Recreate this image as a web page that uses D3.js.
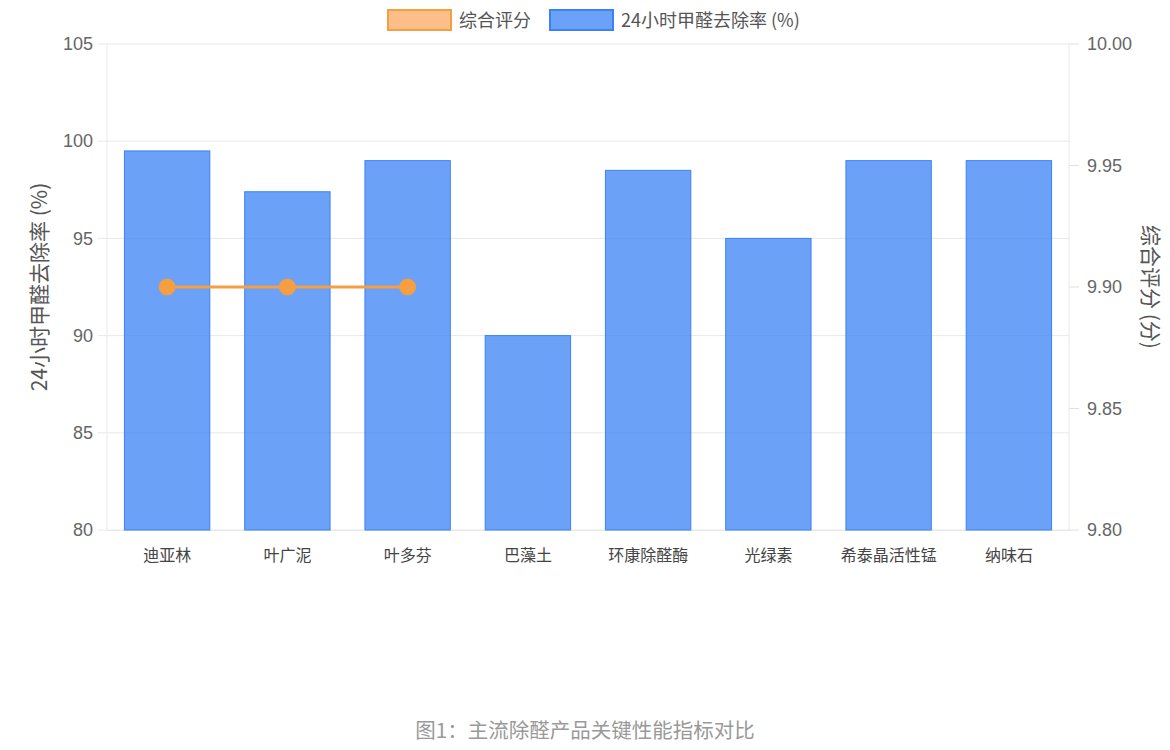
<!DOCTYPE html>
<html>
<head>
<meta charset="utf-8">
<script src="https://cdn.jsdelivr.net/npm/d3@7"></script>
<style>
  body { margin: 0; background: #fff; font-family: "Noto Sans CJK SC", "Noto Sans", sans-serif; }
  .chart { width: 1170px; height: 750px; }
</style>
</head>
<body>
<div class="chart"></div>
<script>
// data
const products = ["迪亚林", "叶广泥", "叶多芬", "巴藻土", "环康除醛酶", "光绿素", "希泰晶活性锰", "纳味石"];
const removal = [99.5, 97.4, 99.0, 90.0, 98.5, 95.0, 99.0, 99.0];
const score = [9.9, 9.9, 9.9, null, null, null, null, null];
const leftTicks = [80, 85, 90, 95, 100, 105];
const rightTicks = [9.80, 9.85, 9.90, 9.95, 10.00];

const margin = {top: 44, right: 101, bottom: 220, left: 107};
const width = 1170 - margin.left - margin.right,
    height = 750 - margin.top - margin.bottom;

const blue = "#3b82f6", blueFill = "rgba(59,130,246,0.75)";
const orange = "#f59e42";

var svg = d3.select(".chart").append("svg")
    .attr("width", 1170)
    .attr("height", 750);

var g = svg.append("g")
    .attr("transform", "translate(" + margin.left + "," + margin.top + ")");

// bars centred in equal bands, like chart.js does
const xScale = d3.scaleBand()
    .domain(products)
    .range([0, width])
    .paddingInner(0.29)
    .paddingOuter(0.145);

const yScale = d3.scaleLinear().domain([80, 105]).range([height, 0]);
const y1Scale = d3.scaleLinear().domain([9.8, 10.0]).range([height, 0]);

// grid
g.append("g")
    .selectAll("line")
    .data(leftTicks)
    .join("line")
    .attr("x1", -9).attr("x2", width)
    .attr("y1", d => yScale(d)).attr("y2", d => yScale(d))
    .attr("stroke", "#e8e8e8");

// right tick marks
g.append("g")
    .selectAll("line")
    .data(rightTicks)
    .join("line")
    .attr("x1", width).attr("x2", width + 10)
    .attr("y1", d => y1Scale(d)).attr("y2", d => y1Scale(d))
    .attr("stroke", "#e0e0e0");

g.append("line").attr("x1", 0).attr("x2", 0).attr("y1", 0).attr("y2", height).attr("stroke", "#e8e8e8");
g.append("line").attr("x1", width).attr("x2", width).attr("y1", 0).attr("y2", height).attr("stroke", "#e8e8e8");

// axes
const yAxis = d3.axisLeft(yScale).tickValues(leftTicks).tickSize(0).tickPadding(14);
const y1Axis = d3.axisRight(y1Scale).tickValues(rightTicks).tickSize(0).tickPadding(18).tickFormat(d3.format(".2f"));
const xAxis = d3.axisBottom(xScale).tickSize(0).tickPadding(20);

[g.append("g").call(yAxis),
 g.append("g").attr("transform", "translate(" + width + ",0)").call(y1Axis)]
    .forEach(a => {
        a.select(".domain").remove();
        a.selectAll("text").attr("fill", "#666").attr("font-size", 18)
            .attr("font-family", "'Liberation Sans', Arial, sans-serif");
    });

var xg = g.append("g").attr("transform", "translate(0," + height + ")").call(xAxis);
xg.select(".domain").attr("stroke", "#e8e8e8");
xg.selectAll("text").attr("fill", "#444").attr("font-size", 16)
    .attr("font-family", "'Noto Sans CJK SC', sans-serif");

// bars
g.selectAll(".bar")
    .data(removal)
    .join("rect")
    .attr("class", "bar")
    .attr("x", (d, i) => xScale(products[i]))
    .attr("y", d => yScale(d))
    .attr("width", xScale.bandwidth())
    .attr("height", d => height - yScale(d))
    .attr("fill", blueFill)
    .attr("stroke", blue)
    .attr("stroke-width", 1);

// score line
const pts = score.map((v, i) => ({v: v, c: products[i]})).filter(d => d.v != null);
const line = d3.line()
    .x(d => xScale(d.c) + xScale.bandwidth() / 2)
    .y(d => y1Scale(d.v));

g.append("path")
    .datum(pts)
    .attr("d", line)
    .attr("fill", "none")
    .attr("stroke", orange)
    .attr("stroke-width", 3);

g.selectAll(".pt")
    .data(pts)
    .join("circle")
    .attr("class", "pt")
    .attr("cx", d => xScale(d.c) + xScale.bandwidth() / 2)
    .attr("cy", d => y1Scale(d.v))
    .attr("r", 8)
    .attr("fill", orange)
    .attr("stroke", orange);

// axis titles
svg.append("text")
    .text("24小时甲醛去除率 (%)")
    .attr("transform", "translate(47," + (margin.top + height / 2) + ") rotate(-90)")
    .attr("text-anchor", "middle")
    .attr("fill", "#555")
    .attr("font-size", 21);

svg.append("text")
    .text("综合评分 (分)")
    .attr("transform", "translate(1143," + (margin.top + height / 2) + ") rotate(90)")
    .attr("text-anchor", "middle")
    .attr("fill", "#555")
    .attr("font-size", 21);

// legend
const legend = [
    {label: "综合评分", fill: "rgba(251,146,60,0.6)", stroke: orange, x: 388},
    {label: "24小时甲醛去除率 (%)", fill: blueFill, stroke: blue, x: 550}
];
var lg = svg.append("g").selectAll("g").data(legend).join("g")
    .attr("transform", d => "translate(" + d.x + ",10)");
lg.append("rect").attr("width", 63).attr("height", 20)
    .attr("fill", d => d.fill).attr("stroke", d => d.stroke).attr("stroke-width", 2);
lg.append("text").text(d => d.label).attr("x", 71).attr("y", 17)
    .attr("fill", "#555").attr("font-size", 18);

// caption
svg.append("text")
    .text("图1：主流除醛产品关键性能指标对比")
    .attr("x", 585).attr("y", 738)
    .attr("text-anchor", "middle")
    .attr("fill", "#999")
    .attr("font-size", 20.5);
</script>
</body>
</html>
